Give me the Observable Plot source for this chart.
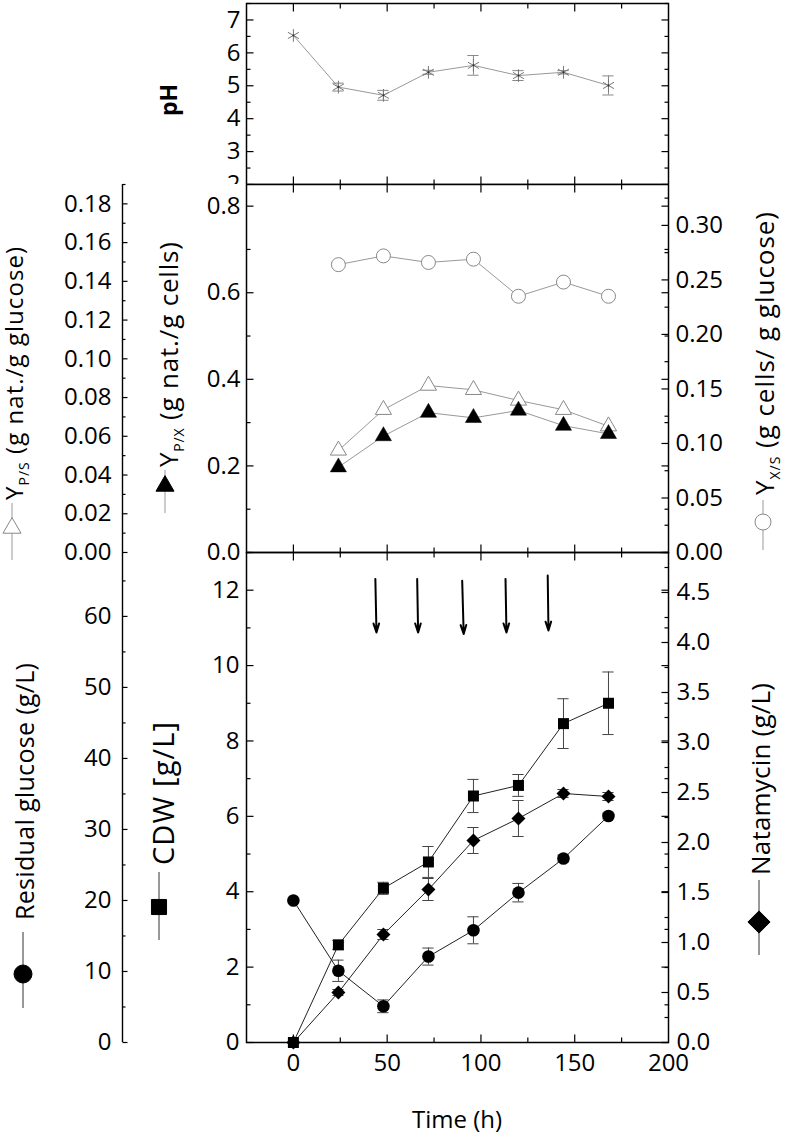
<!DOCTYPE html>
<html><head><meta charset="utf-8">
<script src="https://cdn.jsdelivr.net/npm/d3@7"></script>
<script src="https://cdn.jsdelivr.net/npm/@observablehq/plot@0.6"></script>
<style>
body{margin:0;background:#fff;}
#wrap{position:relative;width:787px;height:1134px;overflow:hidden;}
#wrap > svg{position:absolute;left:0;}
text,tspan{white-space:pre;}
</style></head><body><div id="wrap"></div>
<script>
// ---- data ----
const time = [0, 24, 48, 72, 96, 120, 144, 168];
const pH = [6.53, 4.96, 4.71, 5.41, 5.62, 5.31, 5.41, 5.01];
const pHErr = [0, 0.12, 0.15, 0.06, 0.3, 0.15, 0.05, 0.29];

const yieldTime = [24, 48, 72, 96, 120, 144, 168];
const yXS = [0.264, 0.272, 0.266, 0.269, 0.235, 0.248, 0.235];
const yPS = [0.0527, 0.0737, 0.0862, 0.084, 0.0785, 0.0737, 0.0652];
const yPX = [0.197, 0.269, 0.323, 0.311, 0.328, 0.293, 0.274];

const cdw = [0, 2.59, 4.09, 4.79, 6.54, 6.82, 8.46, 9.0];
const cdwErr = [0, 0.12, 0.16, 0.41, 0.44, 0.29, 0.66, 0.83];
const natamycin = [0, 0.5, 1.08, 1.53, 2.02, 2.24, 2.49, 2.46];
const natErr = [0, 0.03, 0.05, 0.11, 0.13, 0.18, 0.04, 0.04];
const glucose = [20.0, 10.1, 5.1, 12.1, 15.8, 21.1, 25.9, 31.9];
const glucErr = [0, 1.5, 0.9, 1.2, 1.9, 1.3, 0.5, 0.4];

const feedTop = [43.7, 66.0, 90.0, 113.1, 135.6];
const feedBottom = [44.3, 66.5, 90.8, 113.6, 136.0];
const feedY1 = [12.30, 12.30, 12.25, 12.30, 12.39];
const feedY2 = [10.88, 10.88, 10.84, 10.88, 10.93];

const xMajor = [0, 50, 100, 150];
const xMinor = [25, 75, 125, 175];
const xLabels = [0, 50, 100, 150, 200];

// ---- helpers ----
const FONT = "'Open Sans', sans-serif";
const hSym = L => ({draw(c){ c.moveTo(0,0); c.lineTo(L,0); }});
const vSym = L => ({draw(c){ c.moveTo(0,0); c.lineTo(0,L); }});
const tk = (vals, anchor, sym) => Plot.dot(vals, {
  ...(anchor === "left" || anchor === "right" ? {y: d => d} : {x: d => d}),
  frameAnchor: anchor, symbol: sym, stroke: "black", strokeWidth: 1.2, fill: "none"
});
function frameTicks(yMaj, yMin) {
  return [
    tk(yMaj, "left", hSym(7)), tk(yMin, "left", hSym(4)),
    tk(yMaj, "right", hSym(-7)), tk(yMin, "right", hSym(-4)),
    tk(xMajor, "top", vSym(8)), tk(xMinor, "top", vSym(5)),
    tk(xMajor, "bottom", vSym(-8)), tk(xMinor, "bottom", vSym(-5))
  ];
}
function outerAxis(maj, min, fmt, top) {
  return [
    Plot.ruleX([-25], {dx: -124, y1: 0, y2: top, stroke: "black", strokeWidth: 1.4}),
    Plot.dot(maj, {y: d => d, frameAnchor: "left", dx: -124, symbol: hSym(5), stroke: "black", strokeWidth: 1.2, fill: "none"}),
    Plot.dot(min, {y: d => d, frameAnchor: "left", dx: -124, symbol: hSym(3), stroke: "black", strokeWidth: 1.2, fill: "none"}),
    Plot.text(maj, {y: d => d, text: fmt, frameAnchor: "left", dx: -135, textAnchor: "end", fontSize: 24})
  ];
}
function errBars(data, color, hw) {
  const d = data.filter(p => p.e > 0);
  return [
    Plot.ruleX(d, {x: "t", y1: p => p.lo, y2: p => p.hi, stroke: color, strokeWidth: 1}),
    Plot.ruleY(d, {y: p => p.hi, x1: p => p.t - hw, x2: p => p.t + hw, stroke: color, strokeWidth: 1}),
    Plot.ruleY(d, {y: p => p.lo, x1: p => p.t - hw, x2: p => p.t + hw, stroke: color, strokeWidth: 1})
  ];
}
const base = (h, mt, mb) => ({
  width: 787, height: h, marginTop: mt, marginBottom: mb, marginLeft: 246, marginRight: 119,
  x: {domain: [-25, 200], axis: null, label: null}
});

const wrap = document.getElementById("wrap");

// ---- panel 1: pH ----
const phData = time.map((t, i) => ({t, v: pH[i], e: pHErr[i], lo: pH[i] - pHErr[i], hi: pH[i] + pHErr[i]}));
const p1 = Plot.plot({
  ...base(184, 3, 0),
  y: {domain: [2, 7.5], axis: null, label: null},
  style: {fontFamily: FONT, fontSize: "24px", background: "transparent"},
  marks: [
    Plot.frame({stroke: "black", strokeWidth: 1.5}),
    ...frameTicks(d3.range(2, 8, 1), d3.range(2.5, 7.6, 1)),
    Plot.axisY(d3.range(2, 8, 1), {anchor: "left", tickSize: 0, tickPadding: 6, fontSize: 24, label: null}),
    Plot.line(phData, {x: "t", y: "v", stroke: "#999", strokeWidth: 1}),
    ...errBars(phData, "#888", 3),
    Plot.dot(phData, {x: "t", y: "v", symbol: "asterisk", r: 6, stroke: "#777", strokeWidth: 1}),
    Plot.dot(phData, {x: "t", y: "v", r: 1, fill: "#333"})
  ]
});
p1.style.top = "0px";
wrap.appendChild(p1);

// ---- panel 2: yields ----
const TOP2 = 0.85, k1 = TOP2 / 0.19, k2 = TOP2 / 0.3375;
const yd = yieldTime.map((t, i) => ({t, xs: yXS[i] * k2, ps: yPS[i] * k1, px: yPX[i]}));
const p2 = Plot.plot({
  ...base(368, 0, 0),
  y: {domain: [0, TOP2], axis: null, label: null},
  style: {fontFamily: FONT, fontSize: "24px", background: "transparent", overflow: "visible"},
  marks: [
    Plot.frame({stroke: "black", strokeWidth: 1.5}),
    ...frameTicks(d3.range(0, 0.81, 0.2), d3.range(0.1, 0.81, 0.2)),
    tk(d3.range(0, 0.31, 0.05).map(v => v * k2), "right", hSym(-7)),
    tk(d3.range(0.025, 0.34, 0.05).map(v => v * k2), "right", hSym(-4)),
    Plot.axisY(d3.range(0, 0.81, 0.2), {anchor: "left", tickSize: 0, tickPadding: 6, fontSize: 24, tickFormat: d3.format(".1f"), label: null}),
    Plot.axisY(d3.range(0, 0.31, 0.05).map(v => v * k2), {anchor: "right", tickSize: 0, tickPadding: 7, fontSize: 24, tickFormat: d => d3.format(".2f")(d / k2), label: null}),
    ...outerAxis(d3.range(0, 0.181, 0.02).map(v => v * k1), d3.range(0.01, 0.195, 0.02).map(v => v * k1), d => d3.format(".2f")(d / k1), TOP2),
    Plot.line(yd, {x: "t", y: "xs", stroke: "#999", strokeWidth: 1}),
    Plot.line(yd, {x: "t", y: "ps", stroke: "#999", strokeWidth: 1}),
    Plot.line(yd, {x: "t", y: "px", stroke: "#999", strokeWidth: 1}),
    Plot.dot(yd, {x: "t", y: "xs", r: 7, fill: "white", stroke: "#888", strokeWidth: 1}),
    Plot.dot(yd, {x: "t", y: "ps", symbol: "triangle", r: 6, fill: "white", stroke: "#888", strokeWidth: 1}),
    Plot.dot(yd, {x: "t", y: "px", symbol: "triangle", r: 6, fill: "black", stroke: "black", strokeWidth: 0.5})
  ]
});
p2.style.top = "184px";
wrap.appendChild(p2);

// ---- panel 3: glucose, CDW, natamycin ----
const TOP3 = 13, kG = TOP3 / 69, kN = TOP3 / 4.9;
const gd = time.map((t, i) => ({t, v: glucose[i] * kG, e: glucErr[i], lo: (glucose[i] - glucErr[i]) * kG, hi: (glucose[i] + glucErr[i]) * kG}));
const cd = time.map((t, i) => ({t, v: cdw[i], e: cdwErr[i], lo: cdw[i] - cdwErr[i], hi: cdw[i] + cdwErr[i]}));
const nd = time.map((t, i) => ({t, v: natamycin[i] * kN, e: natErr[i], lo: (natamycin[i] - natErr[i]) * kN, hi: (natamycin[i] + natErr[i]) * kN}));
const feeds = feedTop.map((x, i) => ({x1: x, x2: feedBottom[i], y1: feedY1[i], y2: feedY2[i]}));
const p3 = Plot.plot({
  ...base(582, 0, 92),
  y: {domain: [0, TOP3], axis: null, label: null},
  style: {fontFamily: FONT, fontSize: "24px", background: "transparent", overflow: "visible"},
  marks: [
    Plot.frame({stroke: "black", strokeWidth: 1.5}),
    ...frameTicks(d3.range(0, 13, 2), d3.range(1, 13.5, 2)),
    tk(d3.range(0, 4.51, 0.5).map(v => v * kN), "right", hSym(-7)),
    tk(d3.range(0.25, 4.9, 0.5).map(v => v * kN), "right", hSym(-4)),
    Plot.axisY(d3.range(0, 13, 2), {anchor: "left", tickSize: 0, tickPadding: 7, fontSize: 24, tickFormat: d3.format("d"), label: null}),
    Plot.axisY(d3.range(0, 4.51, 0.5).map(v => v * kN), {anchor: "right", tickSize: 0, tickPadding: 8, fontSize: 24, tickFormat: d => d3.format(".1f")(d / kN), label: null}),
    ...outerAxis(d3.range(0, 61, 10).map(v => v * kG), d3.range(5, 66, 10).map(v => v * kG), d => d3.format("d")(Math.round(d / kG)), TOP3),
    Plot.axisX(xLabels, {anchor: "bottom", tickSize: 0, tickPadding: 11, fontSize: 24, label: null}),
    Plot.arrow(feeds, {x1: "x1", y1: "y1", x2: "x2", y2: "y2", stroke: "black", strokeWidth: 2, headLength: 7, headAngle: 35}),
    Plot.line(gd, {x: "t", y: "v", stroke: "#222", strokeWidth: 1}),
    Plot.line(cd, {x: "t", y: "v", stroke: "#222", strokeWidth: 1}),
    Plot.line(nd, {x: "t", y: "v", stroke: "#222", strokeWidth: 1}),
    ...errBars(gd, "#444", 3),
    ...errBars(cd, "#444", 3),
    ...errBars(nd, "#444", 3),
    Plot.dot(gd, {x: "t", y: "v", r: 6.3, fill: "black"}),
    Plot.dot(cd, {x: "t", y: "v", symbol: "square", r: 6.2, fill: "black"}),
    Plot.dot(nd, {x: "t", y: "v", symbol: "diamond2", r: 6.3, fill: "black"})
  ]
});
p3.style.top = "552px";
wrap.appendChild(p3);

// ---- overlay: axis titles and their legend keys ----
const ov = d3.select(wrap).append("svg").attr("width", 787).attr("height", 1134)
  .style("top", "0px").style("pointer-events", "none")
  .attr("font-family", FONT);
function vTitle(x, y, parts, size, opts = {}) {
  const t = ov.append("text").attr("transform", `translate(${x},${y}) rotate(-90)`)
    .attr("font-size", size).attr("font-weight", opts.weight || "normal")
    .attr("text-anchor", opts.anchor || "start").attr("fill", "black");
  if (opts.length) t.attr("textLength", opts.length).attr("lengthAdjust", "spacing");
  let prevSub = false;
  parts.forEach(p => {
    const ts = t.append("tspan").text(p.t);
    if (p.sub) { ts.attr("font-size", 14).attr("dy", 6); prevSub = true; }
    else if (prevSub) { ts.attr("dy", -6); prevSub = false; }
  });
}
function key(x, y1, y2, cy, type, r, fill, stroke, lineColor) {
  ov.append("line").attr("x1", x).attr("x2", x).attr("y1", y1).attr("y2", y2)
    .attr("stroke", lineColor).attr("stroke-width", 1);
  ov.append("path").attr("d", d3.symbol(type, Math.PI * r * r)())
    .attr("transform", `translate(${x},${cy})`).attr("fill", fill).attr("stroke", stroke).attr("stroke-width", 1);
}
vTitle(23, 500, [{t: "Y"}, {t: "P/S", sub: true}, {t: " (g nat./g glucose)"}], 24, {length: 253});
key(12, 503, 560, 528, d3.symbolTriangle, 6.7, "white", "#888", "#999");
vTitle(178, 467, [{t: "Y"}, {t: "P/X", sub: true}, {t: " (g nat./g cells)"}], 26, {length: 225});
key(165, 470, 513, 486, d3.symbolTriangle, 6.7, "black", "black", "#999");
vTitle(774, 495, [{t: "Y"}, {t: "X/S", sub: true}, {t: " (g cells/ g glucose)"}], 26, {length: 283});
key(763, 500, 550, 522, d3.symbolCircle, 8, "white", "#888", "#999");
vTitle(177, 100, [{t: "pH"}], 23, {weight: "bold", anchor: "middle"});
vTitle(34, 920, [{t: "Residual glucose (g/L)"}], 25, {length: 257});
key(23, 932, 1008, 974, d3.symbolCircle, 9, "black", "black", "#333");
vTitle(174, 865, [{t: "CDW [g/L]"}], 29, {length: 143});
key(159, 872, 940, 907, d3.symbolSquare, 8.5, "black", "black", "#333");
vTitle(770, 875, [{t: "Natamycin (g/L)"}], 26, {length: 192});
key(759, 880, 955, 922, d3.symbolDiamond2, 10, "black", "black", "#333");
ov.append("text").attr("x", 457).attr("y", 1128).attr("text-anchor", "middle")
  .attr("font-size", 24).text("Time (h)");
</script></body></html>
